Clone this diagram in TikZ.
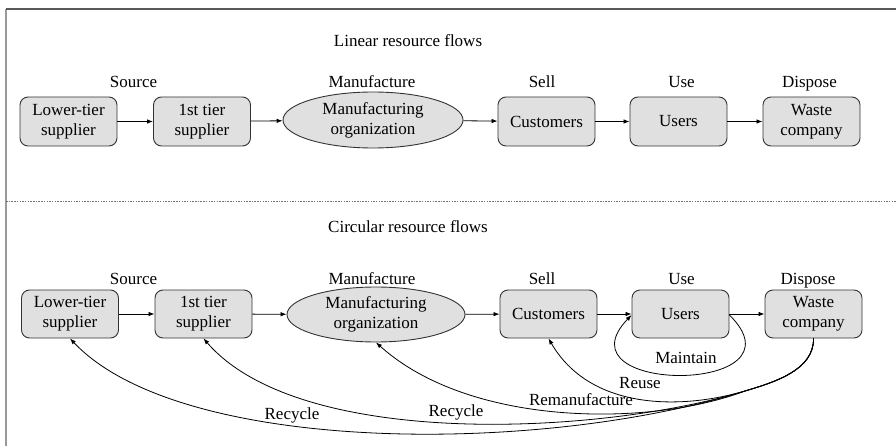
\documentclass[tikz,border=0pt]{standalone}
\usepackage{fontspec}
\setmainfont{Liberation Serif}
\newfontfamily\tnr{Liberation Serif}
\usetikzlibrary{arrows.meta,shapes.geometric}
\begin{document}
\begin{tikzpicture}[x=1pt,y=-1pt,
  every node/.style={font=\tnr\fontsize{17}{20}\selectfont},
  box/.style={draw=black!80, fill=black!12, rounded corners=8pt, line width=0.9pt, minimum width=97pt, minimum height=49pt, inner sep=0pt, align=center},
  ell/.style={ellipse, draw=black!80, fill=black!12, line width=0.9pt, minimum width=180pt, minimum height=56pt, inner sep=0pt, align=center},
  lab/.style={inner sep=0pt, anchor=base},
  flow/.style={-{Latex[length=6pt,width=4.5pt]}, line width=0.8pt},
  curve/.style={-{Latex[length=6pt,width=4.5pt]}, line width=0.8pt},
]
\useasboundingbox (0,0) rectangle (896,446);
% frame
\draw[black!40, line width=1.2pt] (6,446) -- (6,9);
\draw[black!65, line width=1.2pt] (6,9) -- (896,9);
\draw[black!55, line width=0.6pt, dash pattern=on 1.5pt off 1.2pt] (6,201) -- (896,201);

% ---------- linear ----------
\node[lab] (hl) at (408,47) {Linear resource flows};
\node[lab] (s1) at (133.5,87.5) {Source};
\node[lab] (m1) at (372,87.5) {Manufacture};
\node[lab] (se1) at (542,87.5) {Sell};
\node[lab] (u1) at (681.5,87.5) {Use};
\node[lab] (d1) at (809.5,87.5) {Dispose};

\node[box] (lt1) at (68.5,121.5) {Lower-tier\\supplier};
\node[box] (ft1) at (202,121.5) {1st tier\\supplier};
\node[ell] (mo1) at (373,120) {Manufacturing\\organization};
\node[box] (cu1) at (546.5,121.5) {Customers};
\node[box] (us1) at (678.5,121.5) {Users};
\node[box] (wc1) at (811.5,121.5) {Waste\\company};

\draw[flow] (lt1) -- (ft1);
\draw[flow] (ft1) -- (mo1);
\draw[flow] (mo1) -- (cu1);
\draw[flow] (cu1) -- (us1);
\draw[flow] (us1) -- (wc1);

% ---------- circular ----------
\node[lab] (hc) at (408,233) {Circular resource flows};
\node[lab] (s2) at (133.5,284) {Source};
\node[lab] (m2) at (372,284) {Manufacture};
\node[lab] (se2) at (542,284) {Sell};
\node[lab] (u2) at (681.5,284) {Use};
\node[lab] (d2) at (808,284) {Dispose};

\node[box, minimum height=48pt] (lt2) at (70,314) {Lower-tier\\supplier};
\node[box, minimum height=48pt] (ft2) at (203.5,314) {1st tier\\supplier};
\node[ell, minimum width=178pt, minimum height=55pt] (mo2) at (376,314.5) {Manufacturing\\organization};
\node[box, minimum height=48pt] (cu2) at (548.5,314) {Customers};
\node[box, minimum height=48pt] (us2) at (680.5,314) {Users};
\node[box, minimum height=48pt] (wc2) at (813.5,314) {Waste\\company};

\draw[flow] (lt2) -- (ft2);
\draw[flow] (ft2) -- (mo2);
\draw[flow] (mo2) -- (cu2);
\draw[flow] (cu2) -- (us2);
\draw[flow] (us2) -- (wc2);

% maintain loop
\draw[curve] ([yshift=-1pt]us2.east) .. controls (810,395) and (555,395) .. ([yshift=-1pt]us2.west);
\node[lab] (lm) at (686,363) {Maintain};

% return flows from waste company
\coordinate (J) at (745,391);
\draw[curve] (wc2.south) .. controls (814,370) and (775,382) .. (J) .. controls (680,410) and (590,410) .. (cu2.south);
\draw[curve] (wc2.south) .. controls (814,370) and (775,382) .. (J) .. controls (650,427) and (470,427) .. (mo2.south);
\draw[curve] (wc2.south) .. controls (814,370) and (775,382) .. (J) .. controls (600,435) and (300,450) .. (ft2.south);
\draw[curve] (wc2.south) .. controls (814,370) and (775,382) .. (J) .. controls (540,455) and (180,455) .. (lt2.south);

\node[lab] (lr) at (640,388) {Reuse};
\node[lab] (lrm) at (581,405) {Remanufacture};
\node[lab] (lr1) at (456,416.5) {Recycle};
\node[lab] (lr2) at (292,419) {Recycle};
\end{tikzpicture}
\end{document}
